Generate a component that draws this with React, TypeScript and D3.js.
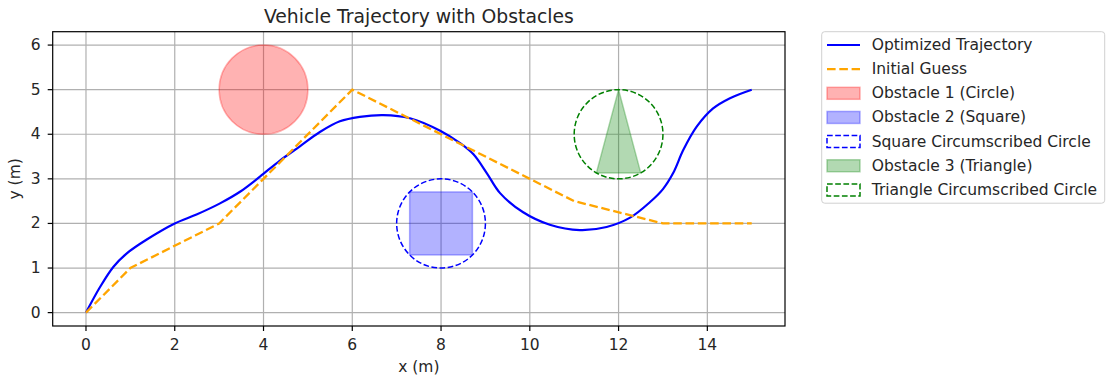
import React from "react";
import * as d3 from "d3";

const trajX = [0, 0.32, 0.62, 0.92, 1.37, 2.0, 2.49, 3.02, 3.47, 3.92, 4.37, 4.82, 5.27, 5.72, 6.17, 6.7, 7.3, 7.98, 8.43, 8.73, 9.03, 9.33, 9.85, 10.45, 11.13, 11.73, 12.26, 12.71, 13.0, 13.23, 13.46, 13.76, 14.13, 14.51, 15.0];
const trajY = [0, 0.58, 1.03, 1.33, 1.64, 2.0, 2.2, 2.45, 2.71, 3.05, 3.41, 3.73, 4.05, 4.29, 4.39, 4.43, 4.36, 4.08, 3.8, 3.55, 3.13, 2.68, 2.25, 1.97, 1.85, 1.92, 2.13, 2.48, 2.77, 3.13, 3.65, 4.17, 4.58, 4.81, 5.0];

const guessX = [0, 1, 3, 4, 6, 8, 10, 11, 13, 15];
const guessY = [0, 1, 2, 3, 5, 4, 3, 2.5, 2, 2];

// obstacles
const circle1 = { cx: 4, cy: 5, r: 1 };
const squareCenter = { cx: 8, cy: 2, half: 0.707 };
const squareCircle = { cx: 8, cy: 2, r: 1 };
const triangleX = [12, 11.5, 12.5];
const triangleY = [5, 3.134, 3.134];
const triangleCircle = { cx: 12, cy: 4, r: 1 };

const xTicks = [0, 2, 4, 6, 8, 10, 12, 14];
const yTicks = [0, 1, 2, 3, 4, 5, 6];

const legendLabels = [
  "Optimized Trajectory",
  "Initial Guess",
  "Obstacle 1 (Circle)",
  "Obstacle 2 (Square)",
  "Square Circumscribed Circle",
  "Obstacle 3 (Triangle)",
  "Triangle Circumscribed Circle",
];

const FONT = "DejaVu Sans, sans-serif";

export default function App() {
  const W = 1106, H = 382;
  const left = 52.7, right = 785, top = 31.7, bottom = 326;
  const x = d3.scaleLinear().domain([-0.75, 15.75]).range([left, right]);
  const y = d3.scaleLinear().domain([-0.3, 6.3]).range([bottom, top]);
  const kx = x(1) - x(0);
  const ky = y(0) - y(1);

  const line = d3.line<[number, number]>().x((d) => x(d[0])).y((d) => y(d[1]));
  const trajPath = d3
    .line<[number, number]>()
    .x((d) => x(d[0]))
    .y((d) => y(d[1]))
    .curve(d3.curveCatmullRom.alpha(0.5))(trajX.map((v, i) => [v, trajY[i]]));
  const guessPath = line(guessX.map((v, i) => [v, guessY[i]]));
  const triPath = line(triangleX.map((v, i) => [v, triangleY[i]])) + "Z";

  const red = "#ff0000", blue = "#0000ff", green = "#008000";
  const legX = 821.7, legY = 31.7, legW = 283, legH = 171.5;
  const rowY = (i: number) => 45 + i * 24.15;
  const fs = 15.5;

  return (
    <svg width={W} height={H} style={{ position: "absolute", left: 0, top: 0, background: "#fff" }} fontFamily={FONT}>
      <rect x={0} y={0} width={W} height={H} fill="#fff" />
      <defs>
        <clipPath id="axclip">
          <rect x={left} y={top} width={right - left} height={bottom - top} />
        </clipPath>
      </defs>
      {/* grid */}
      {xTicks.map((t) => (
        <line key={"gx" + t} x1={x(t)} x2={x(t)} y1={top} y2={bottom} stroke="#b0b0b0" strokeWidth={1.2} />
      ))}
      {yTicks.map((t) => (
        <line key={"gy" + t} x1={left} x2={right} y1={y(t)} y2={y(t)} stroke="#b0b0b0" strokeWidth={1.2} />
      ))}
      <g clipPath="url(#axclip)">
        {/* obstacle 1 */}
        <ellipse cx={x(circle1.cx)} cy={y(circle1.cy)} rx={circle1.r * kx} ry={circle1.r * ky}
          fill={red} fillOpacity={0.3} stroke={red} strokeOpacity={0.3} strokeWidth={1.5} />
        {/* square */}
        <rect x={x(squareCenter.cx - squareCenter.half)} y={y(squareCenter.cy + squareCenter.half)}
          width={2 * squareCenter.half * kx} height={2 * squareCenter.half * ky}
          fill={blue} fillOpacity={0.3} stroke={blue} strokeOpacity={0.3} strokeWidth={1.5} />
        <ellipse cx={x(squareCircle.cx)} cy={y(squareCircle.cy)} rx={squareCircle.r * kx} ry={squareCircle.r * ky}
          fill="none" stroke={blue} strokeWidth={1.5} strokeDasharray="5.7,2.5" />
        {/* triangle */}
        <path d={triPath} fill={green} fillOpacity={0.3} stroke={green} strokeOpacity={0.3} strokeWidth={1.5} />
        <ellipse cx={x(triangleCircle.cx)} cy={y(triangleCircle.cy)} rx={triangleCircle.r * kx} ry={triangleCircle.r * ky}
          fill="none" stroke={green} strokeWidth={1.5} strokeDasharray="5.7,2.5" />
        {/* lines */}
        <path d={trajPath || ""} fill="none" stroke={blue} strokeWidth={2.2} />
        <path d={guessPath || ""} fill="none" stroke="#ffa500" strokeWidth={2.3} strokeDasharray="8.6,3.7" />
      </g>
      {/* spines */}
      <rect x={left} y={top} width={right - left} height={bottom - top} fill="none" stroke="#000" strokeWidth={1.2} />
      {/* ticks */}
      {xTicks.map((t) => (
        <g key={"tx" + t}>
          <line x1={x(t)} x2={x(t)} y1={bottom} y2={bottom + 5} stroke="#000" strokeWidth={1.2} />
          <text x={x(t)} y={bottom + 19} textAnchor="middle" dominantBaseline="central" fontSize={fs} fill="#262626">{t}</text>
        </g>
      ))}
      {yTicks.map((t) => (
        <g key={"ty" + t}>
          <line x1={left - 5} x2={left} y1={y(t)} y2={y(t)} stroke="#000" strokeWidth={1.2} />
          <text x={left - 12} y={y(t)} textAnchor="end" dominantBaseline="central" fontSize={fs} fill="#262626">{t}</text>
        </g>
      ))}
      <text x={(left + right) / 2} y={367} textAnchor="middle" dominantBaseline="central" fontSize={fs} fill="#262626">x (m)</text>
      <text transform={`translate(15,${(top + bottom) / 2}) rotate(-90)`} textAnchor="middle" dominantBaseline="central" fontSize={fs} fill="#262626">y (m)</text>
      <text x={(left + right) / 2} y={16} textAnchor="middle" dominantBaseline="central" fontSize={18.8} fill="#262626">Vehicle Trajectory with Obstacles</text>
      {/* legend */}
      <rect x={legX} y={legY} width={legW} height={legH} rx={3} fill="#fff" fillOpacity={0.8} stroke="#d0d0d0" strokeWidth={1} />
      {legendLabels.map((lab, i) => {
        const cy = rowY(i);
        const hx = 827, hw = 33, hh = 12;
        let handle: React.ReactNode = null;
        if (i === 0) handle = <line x1={hx} x2={hx + hw} y1={cy} y2={cy} stroke={blue} strokeWidth={2.2} />;
        else if (i === 1) handle = <line x1={hx} x2={hx + hw} y1={cy} y2={cy} stroke="#ffa500" strokeWidth={2.3} strokeDasharray="8.6,3.7" />;
        else if (i === 2) handle = <rect x={hx} y={cy - hh / 2} width={hw} height={hh} fill={red} fillOpacity={0.3} stroke={red} strokeOpacity={0.3} strokeWidth={1.5} />;
        else if (i === 3) handle = <rect x={hx} y={cy - hh / 2} width={hw} height={hh} fill={blue} fillOpacity={0.3} stroke={blue} strokeOpacity={0.3} strokeWidth={1.5} />;
        else if (i === 4) handle = <rect x={hx} y={cy - hh / 2} width={hw} height={hh} fill="none" stroke={blue} strokeWidth={1.5} strokeDasharray="5.7,2.5" />;
        else if (i === 5) handle = <rect x={hx} y={cy - hh / 2} width={hw} height={hh} fill={green} fillOpacity={0.3} stroke={green} strokeOpacity={0.3} strokeWidth={1.5} />;
        else handle = <rect x={hx} y={cy - hh / 2} width={hw} height={hh} fill="none" stroke={green} strokeWidth={1.5} strokeDasharray="5.7,2.5" />;
        return (
          <g key={"leg" + i}>
            {handle}
            <text x={871.7} y={cy} dominantBaseline="central" fontSize={fs} fill="#262626">{lab}</text>
          </g>
        );
      })}
    </svg>
  );
}
